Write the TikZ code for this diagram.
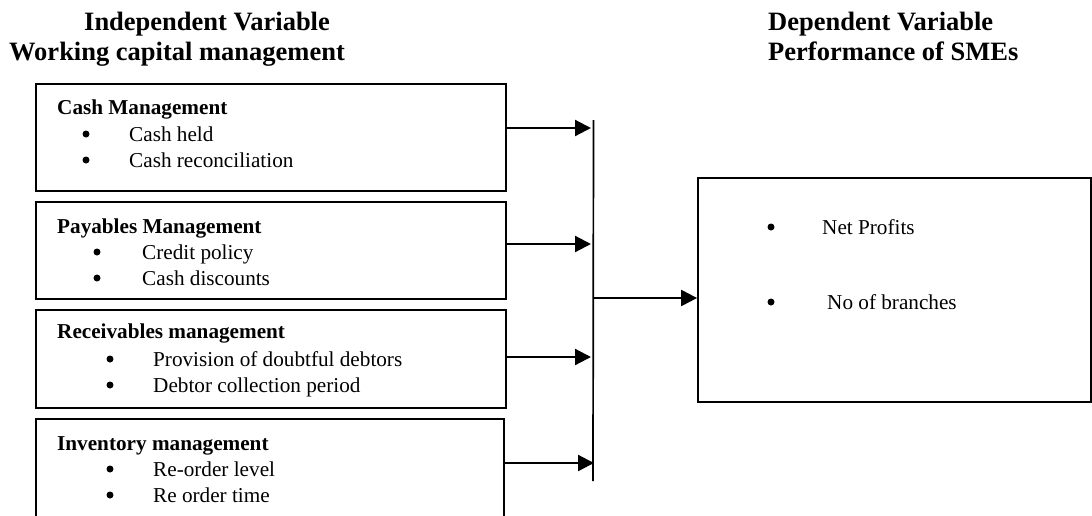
\documentclass[tikz,border=0pt]{standalone}
\usepackage{fontspec}
\setmainfont{Liberation Serif}
\usetikzlibrary{arrows.meta}
\tikzset{
  ivbox/.style={draw, line width=1.8pt, rectangle, inner sep=0pt},
  ttl/.style={font=\fontsize{26.5}{30}\selectfont\bfseries, anchor=base west, inner sep=0pt},
  hd/.style={font=\fontsize{21.2}{25}\selectfont\bfseries, anchor=base west, inner sep=0pt},
  itm/.style={font=\fontsize{21.2}{25}\selectfont, anchor=base west, inner sep=0pt},
  bul/.style={circle, fill, inner sep=0pt, minimum size=7pt},
  conn/.style={line width=2.2pt, -{Triangle[length=16pt,width=16pt]}},
  bus/.style={line width=1.7pt},
}
\begin{document}
\begin{tikzpicture}[x=1pt,y=-1pt]
\clip (0,0) rectangle (1092,515);
% titles
\node[ttl] (t1a) at (84,30) {Independent Variable};
\node[ttl] (t1b) at (9,60) {Working capital management};
\node[ttl] (t2a) at (768,30) {Dependent Variable};
\node[ttl] (t2b) at (768,60) {Performance of SMEs};
% boxes
\node[ivbox, minimum width=470pt, minimum height=107pt] (b1) at (271,137.5) {};
\node[ivbox, minimum width=470pt, minimum height=97pt] (b2) at (271,250.5) {};
\node[ivbox, minimum width=470pt, minimum height=98pt] (b3) at (271,359) {};
\node[ivbox, minimum width=468pt, minimum height=141pt] (b4) at (270,489.5) {};
\node[ivbox, minimum width=393pt, minimum height=224pt] (dv) at (894.5,290) {};
% box 1 text
\node[hd] (h1) at (57,114) {Cash Management};
\node[bul] (u11) at (86,134) {};
\node[itm] (i11) at (129,141) {Cash held};
\node[bul] (u12) at (86,160) {};
\node[itm] (i12) at (129,167) {Cash reconciliation};
% box 2 text
\node[hd] (h2) at (57,233) {Payables Management};
\node[bul] (u21) at (97,252) {};
\node[itm] (i21) at (142,259) {Credit policy};
\node[bul] (u22) at (97,278) {};
\node[itm] (i22) at (142,285) {Cash discounts};
% box 3 text
\node[hd] (h3) at (57,338) {Receivables management};
\node[bul] (u31) at (110,359) {};
\node[itm] (i31) at (153,366) {Provision of doubtful debtors};
\node[bul] (u32) at (110,385) {};
\node[itm] (i32) at (153,392) {Debtor collection period};
% box 4 text
\node[hd] (h4) at (57,450) {Inventory management};
\node[bul] (u41) at (110,469) {};
\node[itm] (i41) at (153,476) {Re-order level};
\node[bul] (u42) at (110,495) {};
\node[itm] (i42) at (153,502) {Re order time};
% dependent box text
\node[bul] (v1) at (771,227) {};
\node[itm] (w1) at (822,234) {Net Profits};
\node[bul] (v2) at (771,302) {};
\node[itm] (w2) at (827,309) {No of branches};
% bus
\coordinate (bt) at (593.5,120);
\coordinate (bb) at (593,481);
\draw[bus] (bt) -- (bb);
\coordinate (a1) at (591,128);
\coordinate (a2) at (591,244);
\coordinate (a3) at (591,357);
\coordinate (a4) at (594,463);
\draw[conn] (b1.east |- a1) -- (a1);
\draw[conn] (b2.east |- a2) -- (a2);
\draw[conn] (b3.east |- a3) -- (a3);
\draw[conn] (b4.east |- a4) -- (a4);
\coordinate (m) at (593,298);
\draw[conn] (m) -- (dv.west |- m);
\end{tikzpicture}
\end{document}
